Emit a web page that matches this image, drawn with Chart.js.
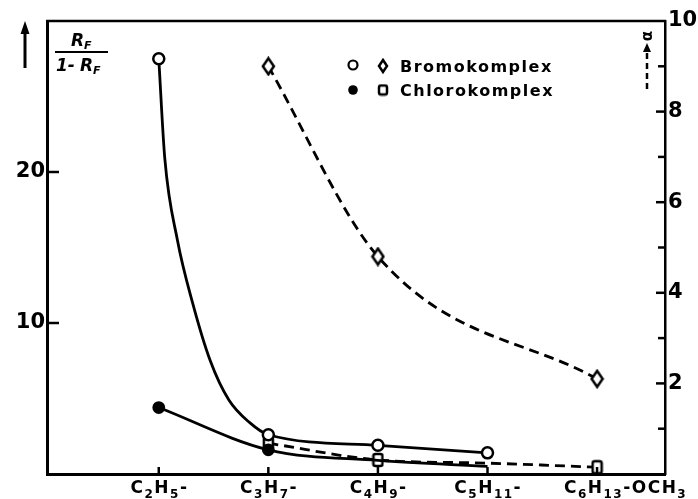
<!DOCTYPE html>
<html>
<head>
<meta charset="utf-8">
<script src="https://cdn.jsdelivr.net/npm/chart.js@4.4.0/dist/chart.umd.min.js"></script>
<style>
  html, body { margin: 0; padding: 0; background: #fff; }
  canvas { display: block; }
</style>
</head>
<body>
<canvas id="chart" width="698" height="499"></canvas>
<script>
// x categories (positions 0..4 on a linear axis)
const categories = ['C2H5-', 'C3H7-', 'C4H9-', 'C5H11-', 'C6H13-OCH3'];
const catIndex = [0, 1, 2, 3, 4];

// RF/(1-RF) values, left axis
const bromoRf = [27.5, 2.6, 1.9, 1.4, null];
const chloroRf = [4.4, 1.6, 0.9, 0.5, null];

// the hand drawn bromo curve (position, value)
const bromoTraceX = [0, 0.055, 0.17, 0.31, 0.47, 0.64, 0.83, 1, 2, 3];
const bromoTraceY = [27.5, 20.9, 15.5, 11.3, 7.5, 4.9, 3.4, 2.6, 1.9, 1.4];

// alpha values, right axis
const bromoAlpha = [null, 9.0, 4.8, null, 2.1];
const chloroAlpha = [null, 0.68, 0.31, 0.24, 0.15];

const leftTicks = [10, 20];
const rightTicks = [1, 2, 3, 4, 5, 6, 7, 8, 9, 10];

const FONT = '"DejaVu Sans", sans-serif';

function pts(xs, ys) {
  return xs.map((x, i) => ({ x: x, y: ys[i] })).filter(p => p.y !== null);
}

// marker images
function diamondImg(w, h) {
  const c = document.createElement('canvas');
  c.width = w + 4; c.height = h + 4;
  const g = c.getContext('2d');
  g.lineWidth = 2.5; g.strokeStyle = '#000'; g.fillStyle = '#fff';
  g.beginPath();
  g.moveTo(c.width / 2, 2);
  g.lineTo(c.width - 2, c.height / 2);
  g.lineTo(c.width / 2, c.height - 2);
  g.lineTo(2, c.height / 2);
  g.closePath(); g.fill(); g.stroke();
  return c;
}
function squareImg(w, h) {
  const c = document.createElement('canvas');
  c.width = w + 4; c.height = h + 4;
  const g = c.getContext('2d');
  g.lineWidth = 2.5; g.strokeStyle = '#000'; g.fillStyle = '#fff';
  g.beginPath();
  g.roundRect(2, 2, w, h, 2);
  g.fill(); g.stroke();
  return c;
}
const diamond = diamondImg(11, 16);
const square = squareImg(9, 12);

function line(ctx, x1, y1, x2, y2) {
  ctx.beginPath(); ctx.moveTo(x1, y1); ctx.lineTo(x2, y2); ctx.stroke();
}

// chemical formula: digits as subscripts
function formula(ctx, text, x, base, size, sub, ls, draw) {
  let cx = x;
  for (const ch of text) {
    const isSub = /[0-9]/.test(ch);
    ctx.font = 'bold ' + (isSub ? sub : size) + 'px ' + FONT;
    if (draw) ctx.fillText(ch, cx, isSub ? base + 5 : base);
    cx += ctx.measureText(ch).width + ls;
  }
  return cx - x - ls;
}

const decor = {
  id: 'decor',
  afterDraw(chart) {
    const { ctx, chartArea: a, scales } = chart;
    const xs = scales.x, yL = scales.yL, yR = scales.yR;
    ctx.save();
    ctx.strokeStyle = '#000';
    ctx.fillStyle = '#000';

    // frame top
    ctx.lineWidth = 2.5;
    line(ctx, a.left - 1, a.top, a.right + 1, a.top);

    // tick marks, all pointing inward
    leftTicks.forEach(v => {
      const y = yL.getPixelForValue(v);
      line(ctx, a.left, y, a.left + 12, y);
    });
    rightTicks.forEach(v => {
      if (v === 10) return;
      const y = yR.getPixelForValue(v);
      line(ctx, a.right - (v % 2 ? 7 : 9), y, a.right, y);
    });
    catIndex.forEach(i => {
      const px = xs.getPixelForValue(i);
      line(ctx, px, a.bottom, px, a.bottom - 7);
    });

    // x labels, centred on the part up to the first '-'
    ctx.textAlign = 'left';
    ctx.textBaseline = 'alphabetic';
    categories.forEach((lab, i) => {
      const px = xs.getPixelForValue(catIndex[i]);
      const head = lab.slice(0, lab.indexOf('-') + 1);
      const w = formula(ctx, head, 0, 0, 17, 12, 1.5, false);
      formula(ctx, lab, px - w / 2, 493, 17, 12, 1.5, true);
    });

    // legend
    ctx.lineWidth = 2.2;
    ctx.beginPath(); ctx.arc(353, 65, 4.5, 0, Math.PI * 2); ctx.stroke();
    ctx.drawImage(diamondImg(8, 12), 383 - 6, 66 - 8);
    ctx.beginPath(); ctx.arc(353, 90, 4.8, 0, Math.PI * 2); ctx.fill();
    ctx.drawImage(squareImg(8, 9), 383 - 6, 90 - 6.5);
    ctx.font = 'bold 16px ' + FONT;
    ctx.letterSpacing = '1.5px';
    ctx.fillText('Bromokomplex', 400, 72);
    ctx.fillText('Chlorokomplex', 400, 96);
    ctx.letterSpacing = '0px';

    // left quantity: RF / (1 - RF) with an up arrow
    ctx.font = 'italic bold 17px ' + FONT;
    ctx.fillText('R', 71, 46);
    ctx.font = 'italic bold 11px ' + FONT;
    ctx.fillText('F', 84, 49);
    ctx.lineWidth = 2;
    line(ctx, 55, 52, 108, 52);
    ctx.font = 'italic bold 17px ' + FONT;
    ctx.fillText('1-', 56, 71);
    ctx.fillText('R', 80, 71);
    ctx.font = 'italic bold 11px ' + FONT;
    ctx.fillText('F', 93, 74);
    ctx.lineWidth = 3;
    line(ctx, 25, 32, 25, 68);
    ctx.beginPath(); ctx.moveTo(25, 21); ctx.lineTo(20.5, 34); ctx.lineTo(29.5, 34); ctx.closePath(); ctx.fill();

    // right quantity: alpha with a dashed up arrow
    ctx.save();
    ctx.translate(652, 36);
    ctx.rotate(-Math.PI / 2);
    ctx.font = 'bold 15px ' + FONT;
    ctx.textAlign = 'center';
    ctx.fillText('\u03b1', 0, 0);
    ctx.restore();
    ctx.beginPath(); ctx.moveTo(647, 43); ctx.lineTo(643, 52); ctx.lineTo(651, 52); ctx.closePath(); ctx.fill();
    ctx.lineWidth = 2.5;
    ctx.setLineDash([6, 4]);
    line(ctx, 647, 53, 647, 92);
    ctx.setLineDash([]);

    ctx.restore();
  }
};

const lineStyle = { borderColor: '#000', borderWidth: 2.8, fill: false, cubicInterpolationMode: 'monotone' };

new Chart(document.getElementById('chart'), {
  type: 'line',
  data: {
    datasets: [
      Object.assign({
        label: 'Bromokomplex RF curve',
        data: pts(bromoTraceX, bromoTraceY),
        yAxisID: 'yL', pointRadius: 0, order: 2
      }, lineStyle),
      Object.assign({
        label: 'Chlorokomplex RF',
        data: pts(catIndex, chloroRf),
        yAxisID: 'yL', order: 1,
        pointStyle: 'circle', pointRadius: [5, 5, 0, 0],
        pointBackgroundColor: '#000', pointBorderColor: '#000'
      }, lineStyle),
      Object.assign({
        label: 'Bromokomplex alpha',
        data: pts(catIndex, bromoAlpha),
        yAxisID: 'yR', order: 1, borderDash: [10, 6],
        pointStyle: diamond, pointRadius: 6
      }, lineStyle),
      Object.assign({
        label: 'Chlorokomplex alpha',
        data: pts(catIndex, chloroAlpha),
        yAxisID: 'yR', order: 1, borderDash: [10, 6],
        pointStyle: square, pointRadius: [6, 6, 0, 6]
      }, lineStyle),
      {
        label: 'Bromokomplex RF',
        data: pts(catIndex, bromoRf),
        yAxisID: 'yL', order: 0, showLine: false,
        pointStyle: 'circle', pointRadius: 5.5, pointBorderWidth: 2.5,
        pointBorderColor: '#000', pointBackgroundColor: '#fff'
      }
    ]
  },
  options: {
    responsive: false,
    animation: false,
    layout: { padding: { top: 21, left: 0, right: 0, bottom: 0 } },
    plugins: { legend: { display: false }, tooltip: { enabled: false } },
    scales: {
      x: {
        type: 'linear', min: -1.02, max: 4.62,
        grid: { display: false, drawTicks: false },
        border: { color: '#000', width: 3 },
        ticks: { display: false },
        afterFit(s) { s.height = 25; }
      },
      yL: {
        type: 'linear', position: 'left', min: 0, max: 30,
        afterBuildTicks(s) { s.ticks = leftTicks.map(v => ({ value: v })); },
        grid: { display: false, drawTicks: false },
        border: { color: '#000', width: 3 },
        ticks: { color: '#000', padding: 2, font: { family: FONT, size: 21, weight: 'bold' } },
        afterFit(s) { s.width = 47; }
      },
      yR: {
        type: 'linear', position: 'right', min: 0, max: 10,
        afterBuildTicks(s) { s.ticks = rightTicks.map(v => ({ value: v })); },
        grid: { display: false, drawTicks: false },
        border: { color: '#000', width: 2.5, dash: [7, 4] },
        ticks: {
          color: '#000', padding: 3, font: { family: FONT, size: 21, weight: 'bold' },
          callback: v => (v % 2 === 0 ? String(v) : '')
        },
        afterFit(s) { s.width = 33; }
      }
    }
  },
  plugins: [decor]
});
</script>
</body>
</html>
